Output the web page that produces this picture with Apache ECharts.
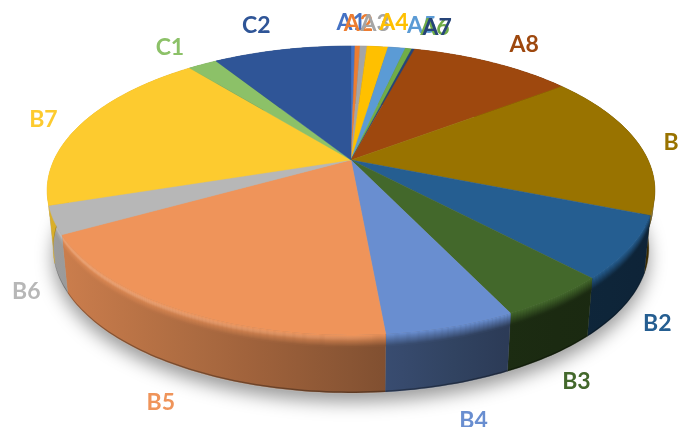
<!DOCTYPE html>
<html>
<head>
<meta charset="utf-8">
<style>
  html, body { margin: 0; padding: 0; background: #fff; }
  #main { width: 680px; height: 427px; }
</style>
<script src="https://cdn.jsdelivr.net/npm/echarts@6/dist/echarts.min.js"></script>
</head>
<body>
<div id="main"></div>
<script>
var categories = ['A1', 'A2', 'A3', 'A4', 'A5', 'A6', 'A7', 'A8', 'B', 'B2', 'B3', 'B4', 'B5', 'B6', 'B7', 'C1', 'C2']
var shares = [0.26, 0.33, 0.45, 1.37, 1.13, 0.42, 0.19, 10.6, 16.3, 6.9, 4.9, 5.7, 18.4, 3.1, 19.1, 1.9, 9.0]
var colors = ['#4472c4', '#ed7d31', '#a5a5a5', '#ffc000', '#5b9bd5', '#70ad47', '#264478', '#9e480e', '#997300',
  '#255e91', '#43682b', '#698ed0', '#ef945a', '#b7b7b7', '#fdcb2f', '#8cc168', '#2f5597']
// label tweaks on top of the radial placement, the small A slices are crowded
var labelNudge = [[-2, 7], [0, 7], [10, 7], [13, 6], [19, 7], [19, 8], [16, 8], [14, 7], [2, 4], [1, 1], [3, 1], [14, 7], [-5, 8], [2, 1], [-8, 5], [-14, 7], [-17, 5]]

// tilted disc: apex of the slices, perspective and thickness
var cx = 351
var cy = 160
var scaleX = 297
var scaleY = 138
var persp = 0.211
var depth = 58

var total = shares.reduce(function(a, b) { return a + b }, 0)

function project(theta, r) {
  var u = Math.sin(theta) * r
  var v = -Math.cos(theta) * r
  var w = 1 - persp * v
  return [cx + scaleX * u / w, cy + scaleY * v / w]
}

function sliceAngles(idx) {
  var before = 0
  for (var i = 0; i < idx; i++) before += shares[i]
  return [before / total * Math.PI * 2, (before + shares[idx]) / total * Math.PI * 2]
}

function arcPoints(a0, a1, drop) {
  var n = Math.max(2, Math.ceil((a1 - a0) / 0.02))
  var pts = []
  for (var i = 0; i <= n; i++) {
    var p = project(a0 + (a1 - a0) * i / n, 1)
    // the underside shrinks a little, it is further from the viewer
    var shrink = 1 - 0.02 * drop / depth
    pts.push([cx + (p[0] - cx) * shrink, p[1] + drop])
  }
  return pts
}

function hexRgb(hex) {
  return [parseInt(hex.substr(1, 2), 16), parseInt(hex.substr(3, 2), 16), parseInt(hex.substr(5, 2), 16)]
}

function wallFactor(x) {
  if (x < 385) return 0.86 - (x - 50) / 335 * 0.32
  if (x < 500) return 0.54 - (x - 385) / 115 * 0.12
  return 0.42 - (x - 500) / 150 * 0.04
}

function rimLight(x) {
  return x < 360 ? 0.16 * (1 - x / 360) + 0.05 : 0
}

function wallColor(hex, x, t) {
  // t: 0 at the rim, 1 on the plain wall
  var rgb = hexRgb(hex)
  var f = wallFactor(x)
  var light = rimLight(x) * Math.sin(Math.min(t * 2, 1) * Math.PI)
  var c = rgb.map(function(ch) {
    var wall = ch * f
    var m = ch + (wall - ch) * t
    return Math.round(m + (255 - m) * light)
  })
  return 'rgb(' + c.join(',') + ')'
}

function wallGradient(hex, t) {
  var stops = []
  for (var i = 0; i <= 12; i++) {
    stops.push({ offset: i / 12, color: wallColor(hex, 40 + 620 * i / 12, t) })
  }
  return { type: 'linear', x: 40, y: 0, x2: 660, y2: 0, global: true, colorStops: stops }
}

var bandSteps = [0, 1, 2, 3, 4, 5, 6, 7, 8, 9, 10, 11, 12]

function renderShadow() {
  var pts = arcPoints(0, Math.PI * 2, depth).map(function(p) { return [p[0], p[1] + 1] })
  return {
    type: 'polygon',
    shape: { points: pts },
    style: { fill: '#b8b8b8', shadowBlur: 18, shadowColor: 'rgba(0,0,0,0.4)', shadowOffsetY: 8 },
    silent: true
  }
}

function renderWall(params) {
  var ang = sliceAngles(params.dataIndex)
  var hex = colors[params.dataIndex]
  var kids = []
  var full = arcPoints(ang[0], ang[1], 0).concat(arcPoints(ang[0], ang[1], depth).reverse())
  kids.push({ type: 'polygon', shape: { points: full }, style: { fill: wallGradient(hex, 1), stroke: wallGradient(hex, 1), lineWidth: 0.3 } })
  for (var i = 0; i < bandSteps.length - 1; i++) {
    var d0 = bandSteps[i]
    var d1 = bandSteps[i + 1] + 0.5
    var t = (i + 0.5) / (bandSteps.length - 1)
    var pts = arcPoints(ang[0], ang[1], d0).concat(arcPoints(ang[0], ang[1], d1).reverse())
    kids.push({ type: 'polygon', shape: { points: pts }, style: { fill: wallGradient(hex, t) } })
  }
  // dark foot of the wall
  var foot = arcPoints(ang[0], ang[1], depth - 1.5).concat(arcPoints(ang[0], ang[1], depth).reverse())
  kids.push({ type: 'polygon', shape: { points: foot }, style: { fill: 'rgba(0,0,0,0.3)' } })
  return { type: 'group', children: kids, silent: true }
}

function renderTop(params, api) {
  var ang = sliceAngles(params.dataIndex)
  var hex = colors[params.dataIndex]
  var pts = [[cx, cy]].concat(arcPoints(ang[0], ang[1], 0))
  return {
    type: 'polygon',
    shape: { points: pts },
    style: { fill: hex, stroke: hex, lineWidth: 0.4 },
    silent: true
  }
}

function renderLabel(params) {
  var idx = params.dataIndex
  var ang = sliceAngles(idx)
  var mid = (ang[0] + ang[1]) / 2
  var p = project(mid, 1)
  var drop = Math.cos(mid) < -0.15 ? depth : 0
  var nudge = labelNudge[idx]
  return {
    type: 'text',
    x: p[0] + Math.sin(mid) * 32 + nudge[0],
    y: p[1] + drop - Math.cos(mid) * 30 + nudge[1],
    style: {
      text: categories[idx],
      fill: colors[idx],
      font: 'bold 23px Lato',
      align: 'center',
      verticalAlign: 'middle'
    },
    silent: true
  }
}

var myChart = echarts.init(document.getElementById('main'), null, { renderer: 'canvas' })
var sliceData = shares.map(function(v, i) { return { name: categories[i], value: v } })
var option = {
  animation: false,
  backgroundColor: '#fff',
  series: [
    { type: 'custom', coordinateSystem: 'none', renderItem: renderShadow, data: [1], z: 1 },
    { type: 'custom', coordinateSystem: 'none', renderItem: renderWall, data: sliceData, z: 2 },
    { type: 'custom', coordinateSystem: 'none', renderItem: renderTop, data: sliceData, z: 3 },
    { type: 'custom', coordinateSystem: 'none', renderItem: renderLabel, data: sliceData, z: 4 }
  ]
}
myChart.setOption(option)
</script>
</body>
</html>
